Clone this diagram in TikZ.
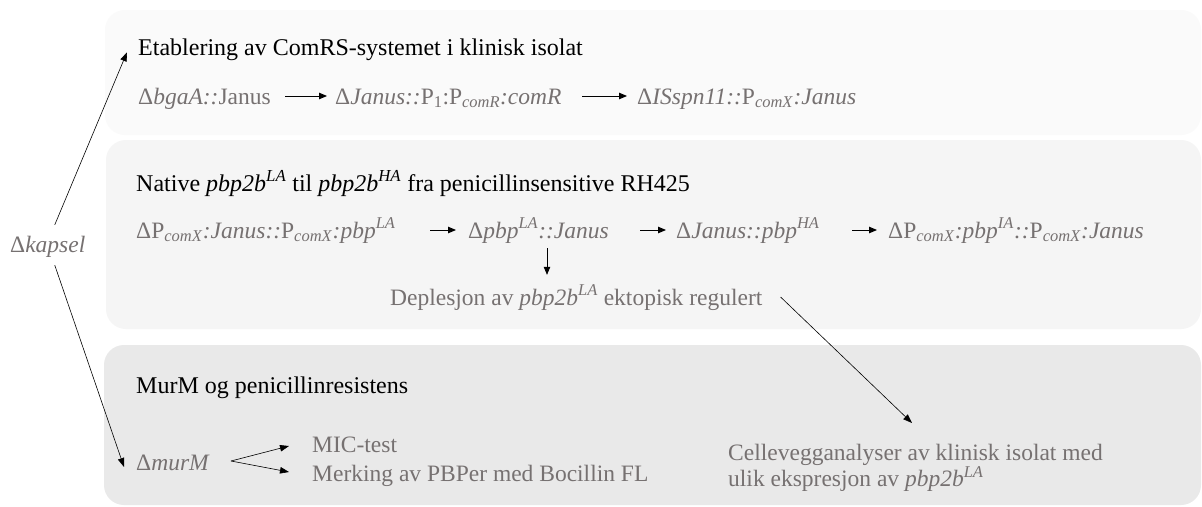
\documentclass[tikz,border=0pt]{standalone}
\usepackage{fontspec}
\setmainfont{Liberation Serif}
\usetikzlibrary{arrows.meta}
\definecolor{txtgray}{RGB}{118,113,113}
\definecolor{boxa}{RGB}{250,250,250}
\definecolor{boxb}{RGB}{245,245,245}
\definecolor{boxc}{RGB}{233,233,233}
\newcommand\mysub[1]{\textsubscript{#1}}
\newcommand\mysup[1]{\textsuperscript{#1}}
\begin{document}
\begin{tikzpicture}[x=1pt,y=-1pt,
  title/.style={anchor=base west, inner sep=0pt, font=\fontsize{24}{28}\selectfont, text=black},
  gtext/.style={anchor=base west, inner sep=0pt, font=\fontsize{23.5}{27}\selectfont, text=txtgray, text height=18pt, text depth=2pt},
  gblock/.style={anchor=north west, inner sep=0pt, font=\fontsize{23.5}{26}\selectfont, text=txtgray, align=left},
  arr/.style={-{Triangle[length=8pt,width=6.5pt]}, line width=0.9pt},
  thinarr/.style={-{Triangle[length=9pt,width=6.5pt]}, line width=0.6pt},
  panel/.style={rounded corners=20pt}]
\useasboundingbox (0,0) rectangle (1202,506);
\fill[white] (0,0) rectangle (1202,506);
% panels
\fill[boxa, panel] (105,10) rectangle (1201,135);
\fill[boxb, panel] (106,140) rectangle (1201,329);
\fill[boxc, panel] (104,345) rectangle (1201,505);
% left label
\node[gtext] (kap) at (10,252) {Δ\textit{kapsel}};
% panel 1
\node[title] (t1) at (138,55) {Etablering av ComRS-systemet i klinisk isolat};
\node[gtext] (r1a) at (138,104) {Δ\textit{bgaA::}Janus};
\node[gtext] (r1b) at (335,104) {Δ\textit{Janus::}P\mysub{1}:P\mysub{\textit{comR}}\textit{:comR}};
\node[gtext] (r1c) at (637,104) {Δ\textit{ISspn11::}P\mysub{\textit{comX}}\textit{:Janus}};
\draw[arr] ([xshift=-50pt]r1b.west) -- ([xshift=-8pt]r1b.west);
\draw[arr] ([xshift=-55pt]r1c.west) -- ([xshift=-10pt]r1c.west);
% panel 2
\node[title] (t2) at (136,191) {Native \textit{pbp2b}\mysup{\textit{LA}} til \textit{pbp2b}\mysup{\textit{HA}} fra penicillinsensitive RH425};
\node[gtext] (r2a) at (136,238) {ΔP\mysub{\textit{comX}}\textit{:Janus::}P\mysub{\textit{comX}}\textit{:pbp}\mysup{\textit{LA}}};
\node[gtext] (r2b) at (468,238) {Δ\textit{pbp}\mysup{\textit{LA}}\textit{::Janus}};
\node[gtext] (r2c) at (676,238) {Δ\textit{Janus::pbp}\mysup{\textit{HA}}};
\node[gtext] (r2d) at (888,238) {ΔP\mysub{\textit{comX}}\textit{:pbp}\mysup{\textit{IA}}\textit{::}P\mysub{\textit{comX}}\textit{:Janus}};
\draw[arr] ([xshift=-38pt]r2b.west) -- ([xshift=-12pt]r2b.west);
\draw[arr] ([xshift=-36pt]r2c.west) -- ([xshift=-10pt]r2c.west);
\draw[arr] ([xshift=-36pt]r2d.west) -- ([xshift=-11pt]r2d.west);
\node[gtext] (dep) at (390,305) {Deplesjon av \textit{pbp2b}\mysup{\textit{LA}} ektopisk regulert};
\coordinate (downx) at (547,0);
\draw[arr, line width=0.7pt] (r2b.south -| downx) ++(0,8) -- ([yshift=12pt]dep.north -| downx);
% panel 3
\node[title] (t3) at (136,393) {MurM og penicillinresistens};
\node[gtext] (mur) at (136,470) {Δ\textit{murM}};
\node[gtext] (mic) at (312,452) {MIC-test};
\node[gtext] (merk) at (312,481) {Merking av PBPer med Bocillin FL};
\node[gblock] (cw) at (728,444) {Cellevegganalyser av klinisk isolat med\\ulik ekspresjon av \textit{pbp2b}\mysup{\textit{LA}}};
\draw[thinarr] ([shift={(21,-1)}]mur.east) -- ([shift={(-23,2)}]mic.west);
\draw[thinarr] ([shift={(21,-1)}]mur.east) -- ([shift={(-23,-1)}]merk.west);
% long connectors
\draw[thinarr] ([shift={(7,-9)}]kap.north) -- ([shift={(-11,3)}]t1.west);
\draw[thinarr] ([shift={(7,11)}]kap.south) -- ([shift={(-12,5)}]mur.west);
\draw[thinarr] ([shift={(18,0)}]dep.east) -- ([shift={(184,-21)}]cw.north west);
\end{tikzpicture}
\end{document}
